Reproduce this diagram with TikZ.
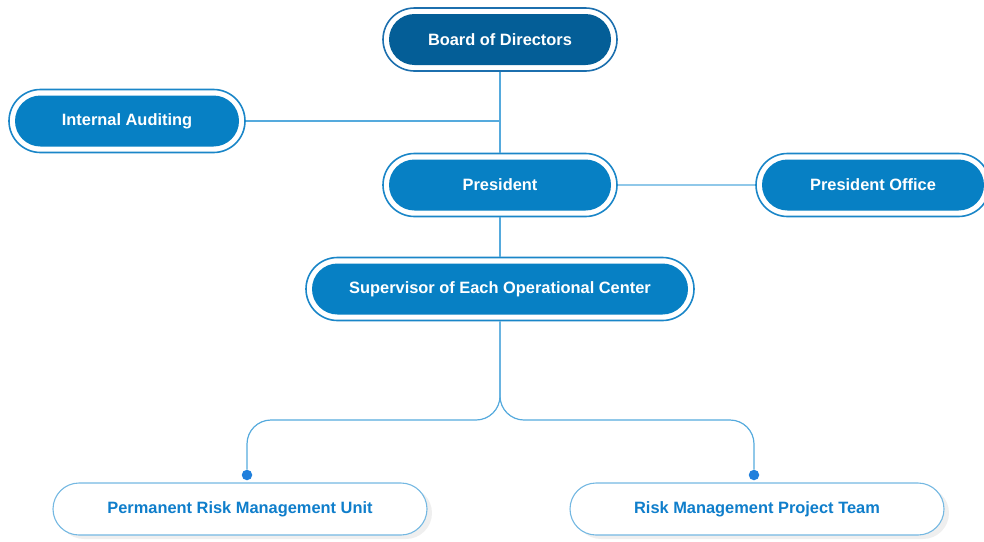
\documentclass[tikz,border=0pt]{standalone}
\usepackage{fontspec}
\setmainfont{Liberation Sans}
\usetikzlibrary{shapes.misc,shadows}
\definecolor{boardfill}{HTML}{045E97}
\definecolor{boardline}{HTML}{1C6FAE}
\definecolor{unitfill}{HTML}{0780C4}
\definecolor{unitline}{HTML}{1A86C8}
\definecolor{linkblue}{HTML}{55AADD}
\definecolor{dotblue}{HTML}{2180DC}
\definecolor{teamtext}{HTML}{0F7ECB}
\definecolor{teamline}{HTML}{74B8E2}
\tikzset{
  pilltext/.style={font=\bfseries\fontsize{16.4}{19}\selectfont},
  ring/.style={rounded rectangle, draw=unitline, line width=1.6pt, fill=white,
    inner sep=0pt, minimum height=63pt},
  core/.style={rounded rectangle, fill=unitfill, text=white, pilltext,
    inner sep=0pt, minimum height=51pt},
  team/.style={rounded rectangle, draw=teamline, line width=1.1pt, fill=white,
    text=teamtext, pilltext, inner sep=0pt, minimum width=374pt, minimum height=52pt,
    drop shadow={shadow xshift=5pt, shadow yshift=-4pt, opacity=0.10, fill=black!60}},
  link/.style={draw=linkblue, line width=1.2pt},
  joint/.style={circle, fill=dotblue, inner sep=0pt, minimum size=10.5pt},
}
\begin{document}
\begin{tikzpicture}[x=1pt,y=-1pt]
\useasboundingbox (0,0) rectangle (984,541);
\clip (0,0) rectangle (984,541);

% upper chain of offices
\node[ring, draw=boardline, minimum width=234pt] (bod) at (500,39.5) {};
\node[core, fill=boardfill, minimum width=222pt] (bodc) at (bod) {Board of Directors};

\node[ring, minimum width=236pt] (ia) at (127,121) {};
\node[core, minimum width=224pt] (iac) at (ia) {Internal Auditing};

\node[ring, minimum width=234pt] (pres) at (500,185) {};
\node[core, minimum width=222pt] (presc) at (pres) {President};

\node[ring, minimum width=234pt] (po) at (873,185) {};
\node[core, minimum width=222pt] (poc) at (po) {President Office};

\node[ring, minimum width=388pt] (sup) at (500,289) {};
\node[core, minimum width=376pt] (supc) at (sup) {Supervisor of Each Operational Center};

% working units
\node[team] (perm) at (240,509) {Permanent Risk Management Unit};
\node[team] (proj) at (757,509) {Risk Management Project Team};

\node[joint] (dl) at (247,475) {};
\node[joint] (dr) at (754,475) {};
\coordinate (split) at (500,420);

% connectors
\draw[link] (bod) -- (pres);
\draw[link] (ia.east) -- (ia.east -| bod.south);
\draw[link] (pres) -- (po);
\draw[link] (pres) -- (sup);
\draw[link, rounded corners=24pt] (sup.south) -- (split) -| (dl.north);
\draw[link, rounded corners=24pt] (sup.south) -- (split) -| (dr.north);
\end{tikzpicture}
\end{document}
